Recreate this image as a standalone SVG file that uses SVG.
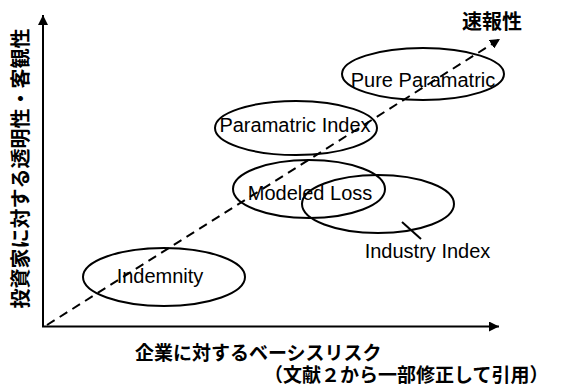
<svg xmlns="http://www.w3.org/2000/svg" width="567" height="387" viewBox="0 0 567 387">
<defs>
<marker id="ah" viewBox="0 0 10 10" refX="10" refY="5" markerWidth="10" markerHeight="10" markerUnits="userSpaceOnUse" orient="auto">
<path d="M0,0 L10,5 L0,10 z" fill="#000"/>
</marker>
<style>
.ell{fill:none;stroke:#000;stroke-width:2}
.lbl{font-family:"Liberation Sans",Arial,sans-serif;font-size:20px;fill:#000;text-anchor:middle}
.jp{font-family:"Noto Sans CJK JP","Noto Sans CJK SC",sans-serif;font-weight:bold;fill:#000}
.ax{stroke:#000;stroke-width:2;fill:none}
</style>
</defs>
<rect width="567" height="387" fill="#fff"/>
<g id="connectors">
<line class="ax" x1="43" y1="327" x2="43" y2="15" marker-end="url(#ah)"/>
<line class="ax" x1="42" y1="326.5" x2="499" y2="326.5" marker-end="url(#ah)"/>
<line class="ax" x1="47" y1="325" x2="500" y2="39" stroke-dasharray="9 6" marker-end="url(#ah)"/>
<line class="ax" x1="402" y1="222" x2="421" y2="239"/>
</g>
<g id="node-pure">
<ellipse class="ell" cx="423" cy="74" rx="81" ry="26"/>
<text class="lbl" x="423" y="87">Pure Paramatric</text>
</g>
<g id="node-param-index">
<ellipse class="ell" cx="296" cy="128" rx="81" ry="27"/>
<text class="lbl" x="295" y="132">Paramatric Index</text>
</g>
<g id="node-modeled">
<ellipse class="ell" cx="309" cy="189" rx="76" ry="29"/>
<text class="lbl" x="310" y="200">Modeled Loss</text>
</g>
<g id="node-industry">
<ellipse class="ell" cx="378" cy="204" rx="76" ry="29"/>
<text class="lbl" x="427.5" y="258">Industry Index</text>
</g>
<g id="node-indemnity">
<ellipse class="ell" cx="164" cy="277" rx="81" ry="29"/>
<text class="lbl" x="160" y="283">Indemnity</text>
</g>
<g id="labels">
<text class="jp" x="462" y="29" font-size="20">速報性</text>
<text class="jp" transform="translate(27.5,168.5) rotate(-90)" text-anchor="middle" font-size="20">投資家に対する透明性・客観性</text>
<text class="jp" x="135" y="360" font-size="19">企業に対するベーシスリスク</text>
<text class="jp" x="264" y="382" font-size="19">（文献２から一部修正して引用）</text>
</g>
</svg>
